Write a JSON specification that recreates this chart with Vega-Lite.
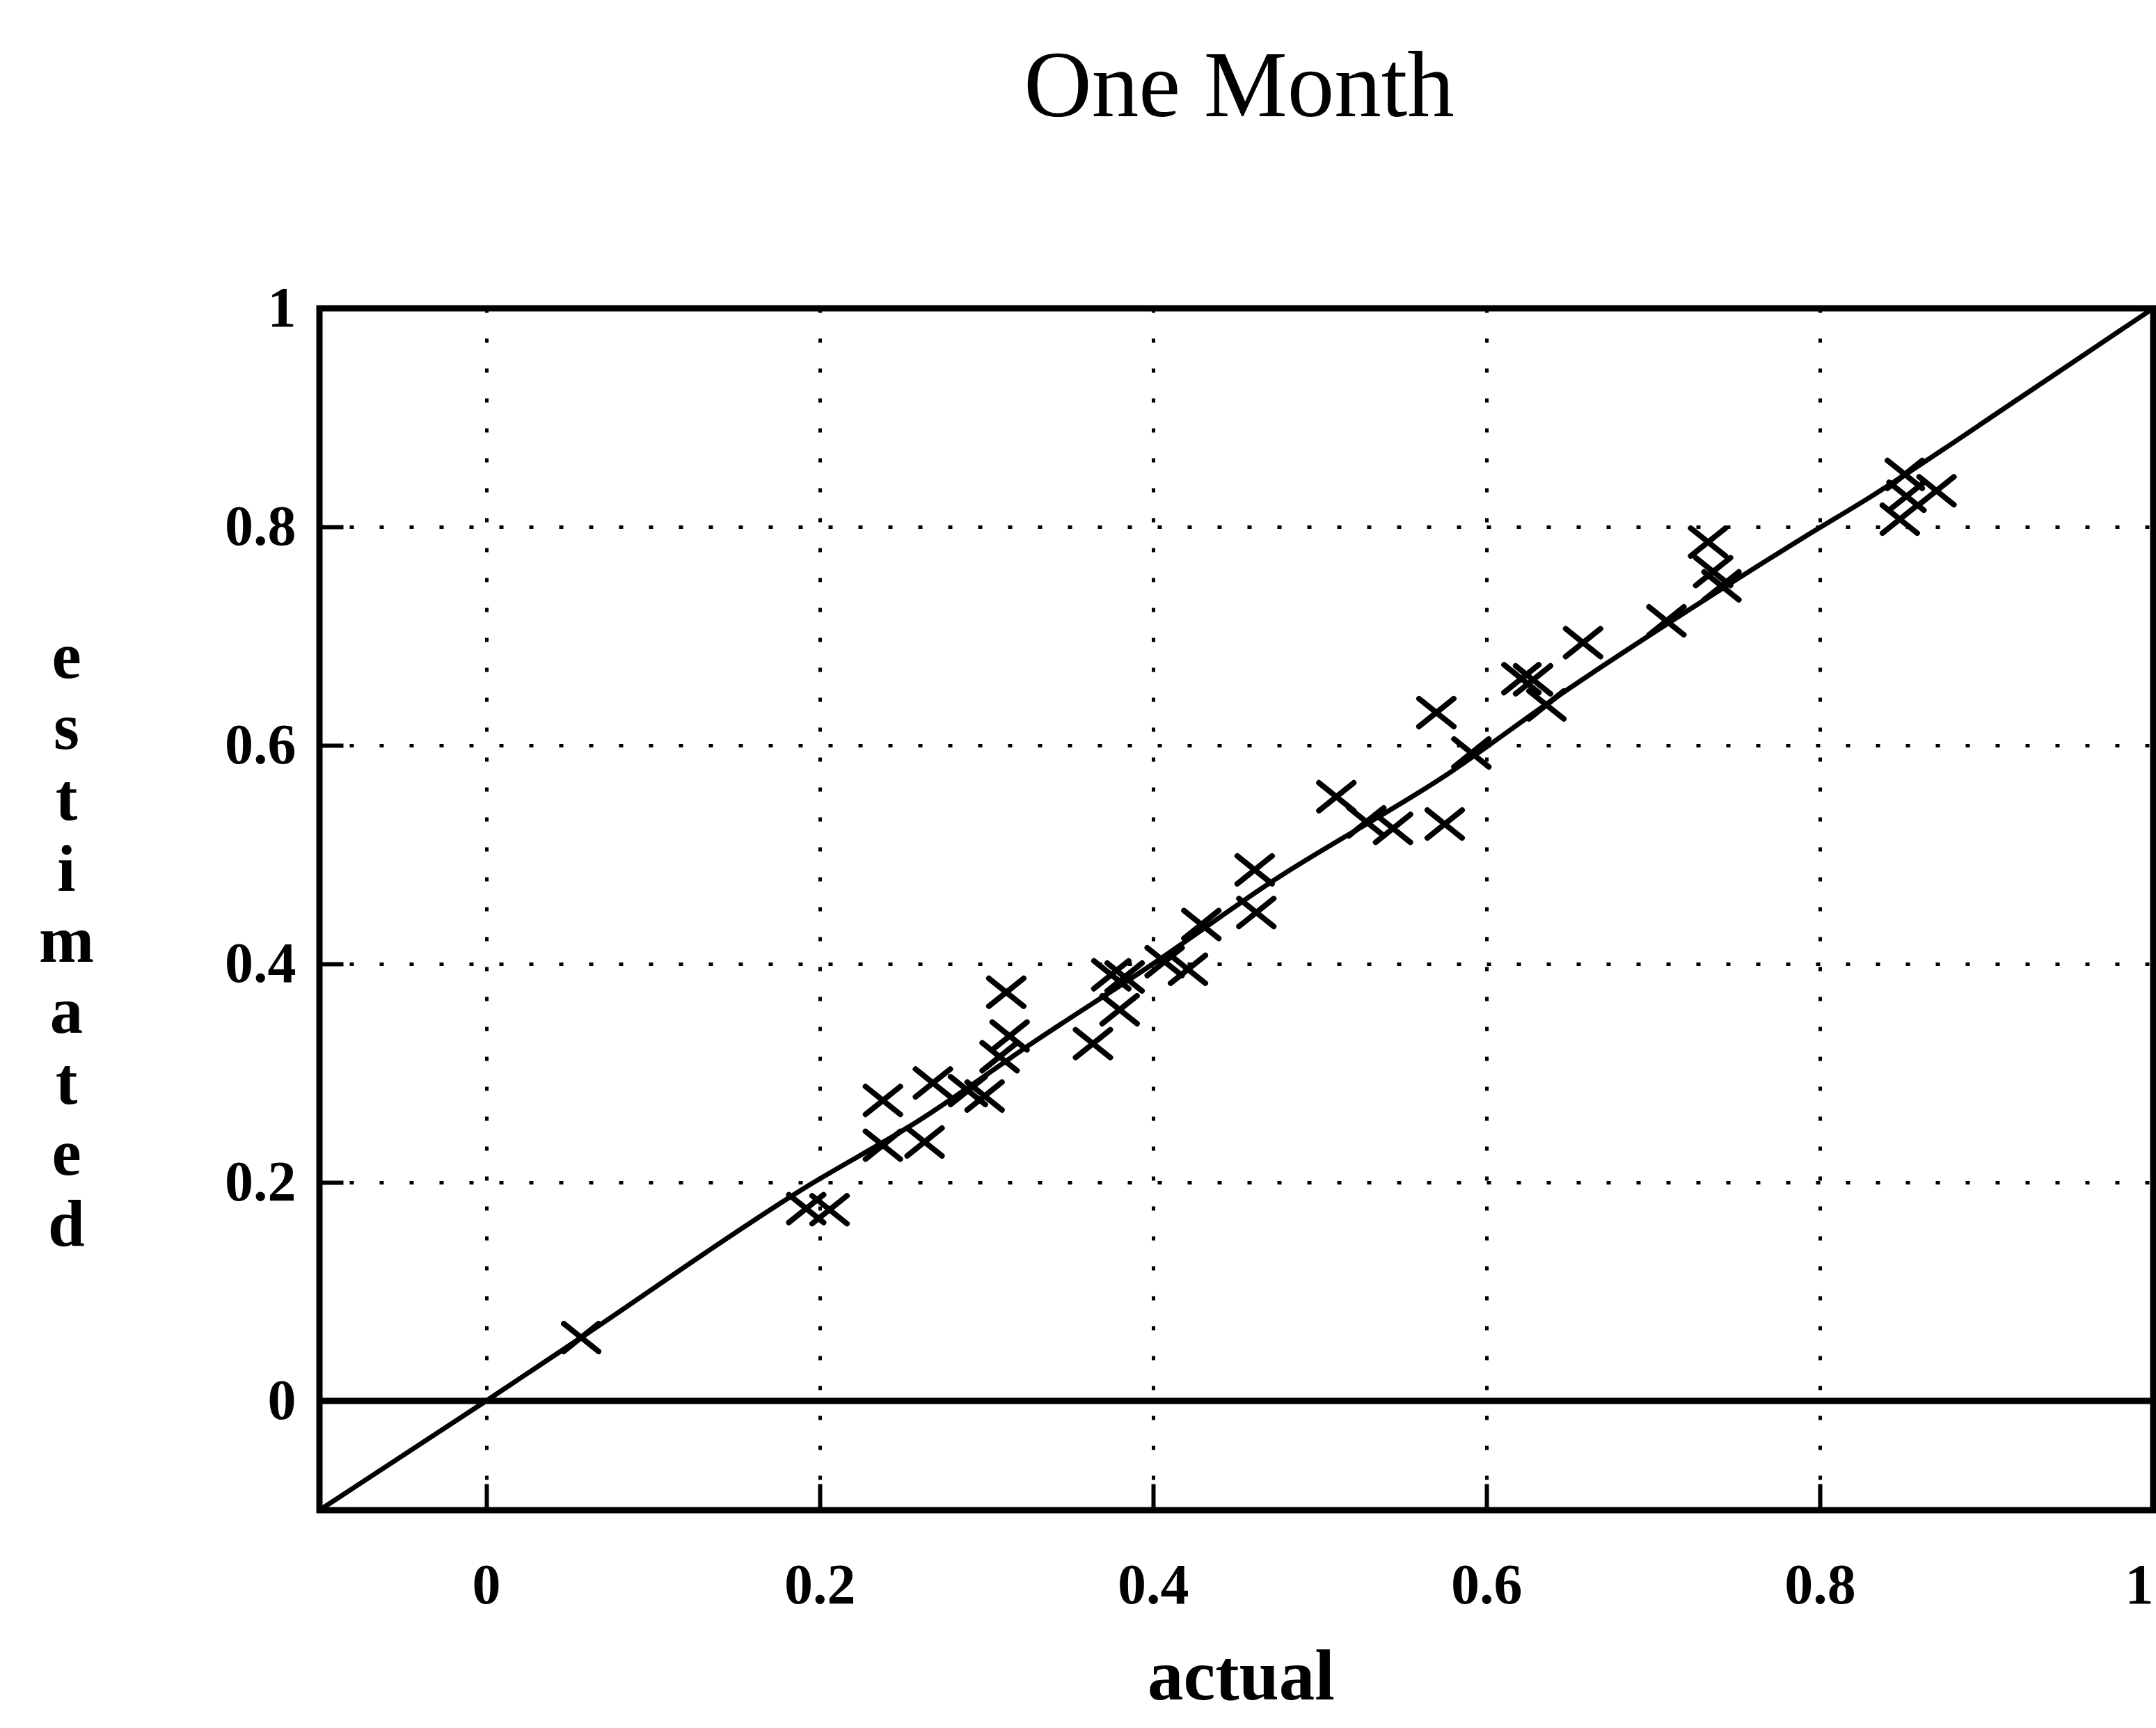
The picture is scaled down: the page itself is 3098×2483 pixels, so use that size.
{
  "$schema": "https://vega.github.io/schema/vega-lite/v6.json",
  "autosize": "none",
  "width": 2635,
  "height": 1727,
  "padding": {"left": 459, "top": 443, "right": 4, "bottom": 313},
  "background": "white",
  "title": {
    "text": "One Month",
    "font": "Liberation Serif",
    "fontSize": 135,
    "fontWeight": "normal",
    "color": "black",
    "anchor": "middle",
    "frame": "group",
    "baseline": "alphabetic",
    "offset": 100,
    "dx": 4
  },
  "config": {
    "view": {"stroke": "black", "strokeWidth": 9, "fill": "white"},
    "axis": {
      "domain": false,
      "grid": true,
      "gridColor": "black",
      "gridDash": [6, 37],
      "gridWidth": 5,
      "gridOpacity": 1,
      "ticks": true,
      "tickColor": "black",
      "tickWidth": 6,
      "labelFont": "Liberation Serif",
      "labelFontWeight": "bold",
      "labelFontSize": 82,
      "labelColor": "black",
      "titleFont": "Liberation Serif",
      "titleFontWeight": "bold",
      "titleColor": "black"
    }
  },
  "datasets": {
    "points": [
      {"actual": 0.057, "estimated": 0.058},
      {"actual": 0.192, "estimated": 0.176},
      {"actual": 0.206, "estimated": 0.175},
      {"actual": 0.238, "estimated": 0.275},
      {"actual": 0.238, "estimated": 0.234},
      {"actual": 0.263, "estimated": 0.237},
      {"actual": 0.268, "estimated": 0.291},
      {"actual": 0.289, "estimated": 0.284},
      {"actual": 0.299, "estimated": 0.279},
      {"actual": 0.312, "estimated": 0.374},
      {"actual": 0.314, "estimated": 0.334},
      {"actual": 0.308, "estimated": 0.315},
      {"actual": 0.364, "estimated": 0.327},
      {"actual": 0.38, "estimated": 0.358},
      {"actual": 0.375, "estimated": 0.39},
      {"actual": 0.383, "estimated": 0.388},
      {"actual": 0.407, "estimated": 0.402},
      {"actual": 0.421, "estimated": 0.395},
      {"actual": 0.429, "estimated": 0.436},
      {"actual": 0.461, "estimated": 0.486},
      {"actual": 0.462, "estimated": 0.447},
      {"actual": 0.51, "estimated": 0.553},
      {"actual": 0.528, "estimated": 0.53},
      {"actual": 0.544, "estimated": 0.524},
      {"actual": 0.575, "estimated": 0.528},
      {"actual": 0.57, "estimated": 0.63},
      {"actual": 0.591, "estimated": 0.593},
      {"actual": 0.621, "estimated": 0.661},
      {"actual": 0.628, "estimated": 0.66},
      {"actual": 0.636, "estimated": 0.637},
      {"actual": 0.658, "estimated": 0.694},
      {"actual": 0.708, "estimated": 0.714},
      {"actual": 0.733, "estimated": 0.786},
      {"actual": 0.736, "estimated": 0.759},
      {"actual": 0.741, "estimated": 0.746},
      {"actual": 0.851, "estimated": 0.848},
      {"actual": 0.87, "estimated": 0.833},
      {"actual": 0.852, "estimated": 0.828},
      {"actual": 0.848, "estimated": 0.807}
    ],
    "fit": [
      {"actual": -0.1, "estimated": -0.1},
      {"actual": 0.0, "estimated": 0.0},
      {"actual": 0.057, "estimated": 0.058},
      {"actual": 0.19, "estimated": 0.194},
      {"actual": 0.26, "estimated": 0.257},
      {"actual": 0.33, "estimated": 0.33},
      {"actual": 0.4, "estimated": 0.4},
      {"actual": 0.47, "estimated": 0.474},
      {"actual": 0.58, "estimated": 0.577},
      {"actual": 0.64, "estimated": 0.642},
      {"actual": 0.74, "estimated": 0.742},
      {"actual": 0.79, "estimated": 0.79},
      {"actual": 0.83, "estimated": 0.827},
      {"actual": 0.92, "estimated": 0.918},
      {"actual": 1.0, "estimated": 1.0}
    ],
    "zero": [{"level": 0}]
  },
  "layer": [
    {
      "data": {"name": "points"},
      "mark": {
        "type": "point",
        "shape": "M-1,-0.8L1,0.8M-1,0.8L1,-0.8",
        "size": 2500,
        "filled": false,
        "stroke": "black",
        "strokeWidth": 8,
        "strokeCap": "round",
        "opacity": 1
      },
      "encoding": {
        "x": {
          "field": "actual",
          "type": "quantitative",
          "scale": {"domain": [-0.1, 1.0], "nice": false, "zero": false},
          "axis": {
            "values": [0, 0.2, 0.4, 0.6, 0.8, 1],
            "format": "~g",
            "tickSize": -38,
            "labelPadding": 106,
            "title": "actual",
            "titleFontSize": 103,
            "titleBaseline": "alphabetic",
            "titleX": 1324,
            "titleY": 271
          }
        },
        "y": {
          "field": "estimated",
          "type": "quantitative",
          "scale": {"domain": [-0.1, 1.0], "nice": false, "zero": false},
          "axis": {
            "values": [0, 0.2, 0.4, 0.6, 0.8, 1],
            "format": "~g",
            "tickSize": -34,
            "labelPadding": 68,
            "title": ["e", "s", "t", "i", "m", "a", "t", "e", "d"],
            "titleFontSize": 95,
            "titleAngle": 0,
            "titleAlign": "center",
            "titleBaseline": "middle",
            "titleLineHeight": 102,
            "titleX": -364,
            "titleY": 501
          }
        }
      }
    },
    {
      "data": {"name": "zero"},
      "mark": {"type": "rule", "stroke": "black", "strokeWidth": 9},
      "encoding": {"y": {"field": "level", "type": "quantitative"}}
    },
    {
      "data": {"name": "fit"},
      "mark": {"type": "line", "stroke": "black", "strokeWidth": 7, "interpolate": "monotone"},
      "encoding": {
        "x": {"field": "actual", "type": "quantitative"},
        "y": {"field": "estimated", "type": "quantitative"}
      }
    }
  ]
}
